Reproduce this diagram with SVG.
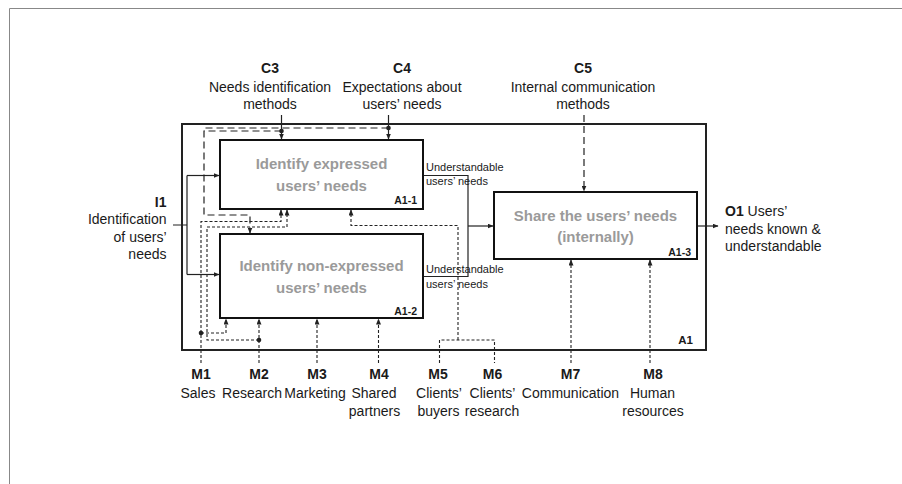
<svg xmlns="http://www.w3.org/2000/svg" width="902" height="484" viewBox="0 0 902 484">
<defs>
<marker id="ah" markerWidth="6" markerHeight="5" refX="5.5" refY="2.5" orient="auto" markerUnits="userSpaceOnUse"><path d="M0,0 L6,2.5 L0,5 z" fill="#222"/></marker>
</defs>
<style>
text{font-family:"Liberation Sans",Arial,sans-serif;fill:#1a1a1a}
.lbl{font-size:14px}
.c{text-anchor:middle}
.e{text-anchor:end}
.b{font-weight:bold}
.title{font-size:15px;font-weight:bold;fill:#9a9a9a;text-anchor:middle}
.id{font-size:10.5px;font-weight:bold;text-anchor:end}
.small{font-size:11px}
.frame{fill:#fff;stroke:#222;stroke-width:2}
.box{fill:#fff;stroke:#111;stroke-width:2}
.ln{fill:none;stroke:#222;stroke-width:1.2}
.ld{stroke-dasharray:7 4}
.sd{stroke-dasharray:3 2;stroke-width:1.1}
.dt{fill:#222}
</style>
<rect x="0" y="0" width="902" height="484" fill="#fff"/>
<path d="M9.5,484 V8.5 H902" fill="none" stroke="#888" stroke-width="1"/>

<g id="A1">
<rect class="frame" x="182" y="124" width="524" height="226"/>
<text class="id" x="693" y="344" style="font-size:11.5px">A1</text>
</g>

<g id="connectors">
<path class="ln" d="M173,225 H187 M187,175.5 V274.5"/>
<path class="ln" d="M187,175.5 H219" marker-end="url(#ah)"/>
<path class="ln" d="M187,274.5 H219" marker-end="url(#ah)"/>
<path class="ln" d="M281.5,115 V139" marker-end="url(#ah)"/>
<path class="ln" d="M388.5,115 V139" marker-end="url(#ah)"/>
<path class="ln" d="M424,175.5 H468 V276.5 H424"/>
<path class="ln" d="M468,226 H493" marker-end="url(#ah)"/>
<path class="ln" d="M698,226 H718" marker-end="url(#ah)"/>
<path class="ln ld" d="M388.5,128 H204 V215 H250 V233" marker-end="url(#ah)"/>
<path class="ln ld" d="M281.5,131 H204"/>
<path class="ln ld" d="M584,115 V191" marker-end="url(#ah)"/>
<path class="ln sd" d="M201,363 V221.5 H281 V210" marker-end="url(#ah)"/>
<path class="ln sd" d="M201,333 H226 V319" marker-end="url(#ah)"/>
<path class="ln sd" d="M259,363 V319" marker-end="url(#ah)"/>
<path class="ln sd" d="M259,340 H207 V227 H287 V210" marker-end="url(#ah)"/>
<path class="ln sd" d="M317,363 V319" marker-end="url(#ah)"/>
<path class="ln sd" d="M378.5,363 V319" marker-end="url(#ah)"/>
<path class="ln sd" d="M439.5,363 V340 H494.5 V363"/>
<path class="ln sd" d="M458,340 V225.5 H351 V210" marker-end="url(#ah)"/>
<path class="ln sd" d="M571,363 V260" marker-end="url(#ah)"/>
<path class="ln sd" d="M650,363 V260" marker-end="url(#ah)"/>
<circle class="dt" cx="281.5" cy="131" r="2.3"/>
<circle class="dt" cx="388.5" cy="128" r="2.3"/>
<circle class="dt" cx="201" cy="333" r="2.3"/>
<circle class="dt" cx="259" cy="340" r="2.3"/>
<text class="small" x="426" y="171">Understandable</text>
<text class="small" x="426" y="185">users’ needs</text>
<text class="small" x="426" y="273">Understandable</text>
<text class="small" x="426" y="287.5">users’ needs</text>
</g>

<g id="A1-1">
<rect class="box" x="220" y="140" width="203" height="69"/>
<text class="title" x="321.5" y="169">Identify expressed</text>
<text class="title" x="321.5" y="191">users’ needs</text>
<text class="id" x="417" y="204">A1-1</text>
</g>

<g id="A1-2">
<rect class="box" x="220" y="234" width="203" height="84"/>
<text class="title" x="321.5" y="271">Identify non-expressed</text>
<text class="title" x="321.5" y="293">users’ needs</text>
<text class="id" x="417" y="315">A1-2</text>
</g>

<g id="A1-3">
<rect class="box" x="494" y="192" width="203" height="67"/>
<text class="title" x="595.5" y="221">Share the users’ needs</text>
<text class="title" x="595.5" y="242">(internally)</text>
<text class="id" x="691" y="255.5">A1-3</text>
</g>

<g id="I1">
<text class="lbl e b" x="166.5" y="206.5">I1</text>
<text class="lbl e" x="166.5" y="224">Identification</text>
<text class="lbl e" x="166.5" y="241.5">of users’</text>
<text class="lbl e" x="166.5" y="259">needs</text>
</g>

<g id="C3">
<text class="lbl c b" x="270" y="73">C3</text>
<text class="lbl c" x="270" y="91.5">Needs identification</text>
<text class="lbl c" x="270" y="109">methods</text>
</g>
<g id="C4">
<text class="lbl c b" x="402" y="73">C4</text>
<text class="lbl c" x="402" y="91.5">Expectations about</text>
<text class="lbl c" x="402" y="109">users’ needs</text>
</g>
<g id="C5">
<text class="lbl c b" x="583" y="73">C5</text>
<text class="lbl c" x="583" y="91.5">Internal communication</text>
<text class="lbl c" x="583" y="109">methods</text>
</g>

<g id="O1">
<text class="lbl" x="725" y="216"><tspan class="b">O1</tspan> Users’</text>
<text class="lbl" x="725" y="233.5">needs known &amp;</text>
<text class="lbl" x="725" y="251">understandable</text>
</g>

<g id="M1">
<text class="lbl c b" x="201" y="379">M1</text>
<text class="lbl c" x="198" y="397.5">Sales</text>
</g>
<g id="M2">
<text class="lbl c b" x="259" y="379">M2</text>
<text class="lbl c" x="252" y="397.5">Research</text>
</g>
<g id="M3">
<text class="lbl c b" x="317" y="379">M3</text>
<text class="lbl c" x="315" y="397.5">Marketing</text>
</g>
<g id="M4">
<text class="lbl c b" x="379" y="379">M4</text>
<text class="lbl c" x="374" y="397.5">Shared</text>
<text class="lbl c" x="374.5" y="415.5">partners</text>
</g>
<g id="M5">
<text class="lbl c b" x="438" y="379">M5</text>
<text class="lbl c" x="439" y="397.5">Clients’</text>
<text class="lbl c" x="438.5" y="415.5">buyers</text>
</g>
<g id="M6">
<text class="lbl c b" x="492.5" y="379">M6</text>
<text class="lbl c" x="492.5" y="397.5">Clients’</text>
<text class="lbl c" x="492" y="415.5">research</text>
</g>
<g id="M7">
<text class="lbl c b" x="570.5" y="379">M7</text>
<text class="lbl c" x="570.5" y="397.5">Communication</text>
</g>
<g id="M8">
<text class="lbl c b" x="653" y="379">M8</text>
<text class="lbl c" x="652.5" y="397.5">Human</text>
<text class="lbl c" x="653" y="415.5">resources</text>
</g>
</svg>
